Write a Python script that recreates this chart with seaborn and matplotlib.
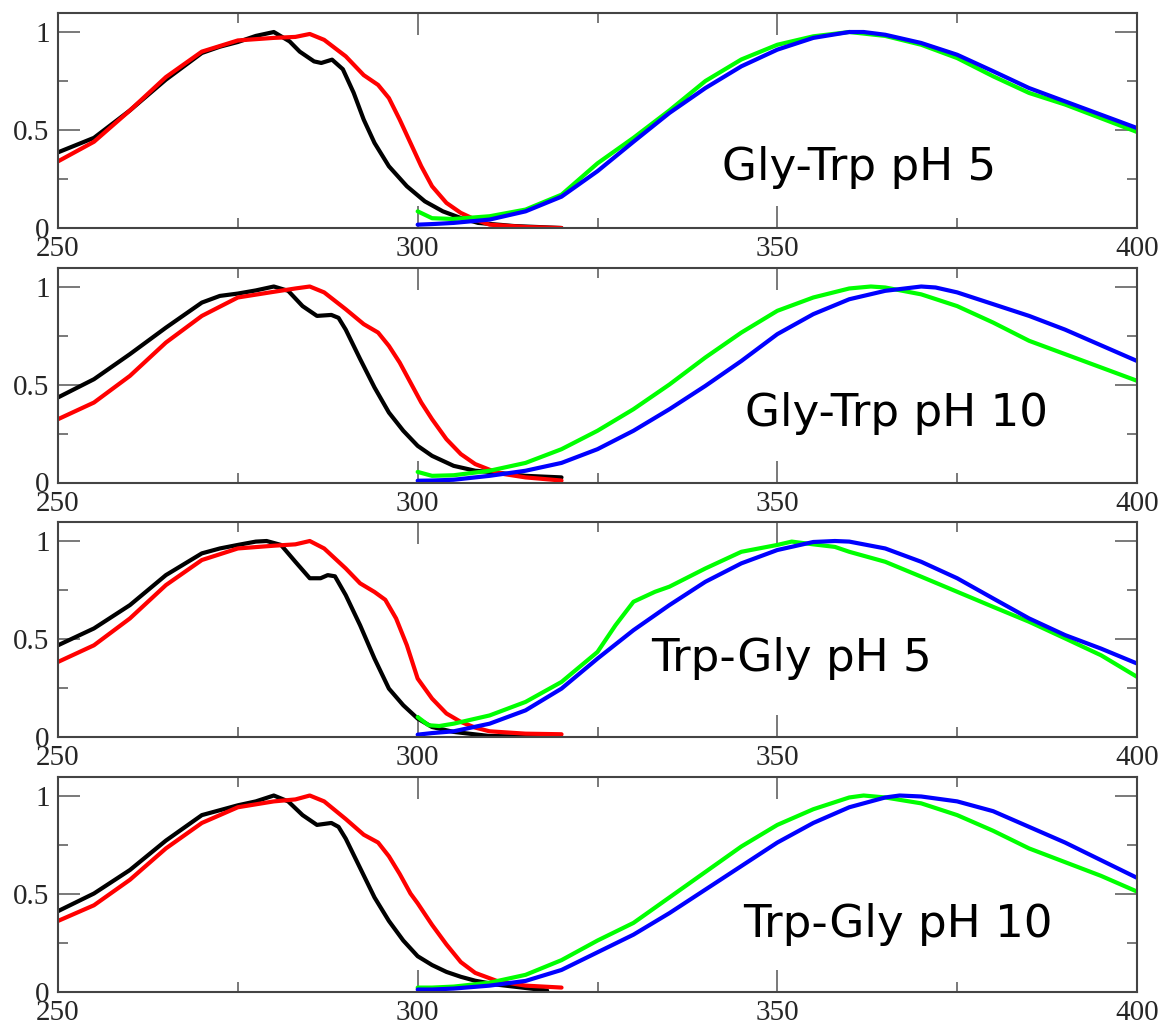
import matplotlib
matplotlib.use("Agg")
import matplotlib.pyplot as plt
import seaborn as sns
import pandas as pd

# ---------------- data ----------------
panel_labels = ["Gly-Trp pH 5", "Gly-Trp pH 10", "Trp-Gly pH 5", "Trp-Gly pH 10"]

# Panel 1 : Gly-Trp pH 5
p1_black_wl = [250, 255, 260, 265, 270, 272.5, 275, 277.5, 280, 282.2, 283.6, 285.6, 286.6, 288.1, 289.6,
               291.1, 292.5, 294, 296, 298.5, 301, 303.5, 306, 308.4, 313.4, 320]
p1_black = [0.386, 0.46, 0.60, 0.757, 0.893, 0.925, 0.949, 0.98, 1.0, 0.952, 0.90, 0.85, 0.842, 0.859, 0.81,
            0.69, 0.553, 0.434, 0.315, 0.213, 0.136, 0.085, 0.051, 0.026, 0.01, 0.0]
p1_red_wl = [250, 255, 260, 265, 270, 275, 280, 283, 285, 287, 290, 292.5, 294.5, 296, 297.5, 299, 300.5,
             302, 304, 306, 308, 310, 315, 320]
p1_red = [0.34, 0.44, 0.60, 0.77, 0.90, 0.957, 0.97, 0.975, 0.99, 0.96, 0.876, 0.78, 0.73, 0.663, 0.553,
          0.434, 0.315, 0.213, 0.128, 0.077, 0.043, 0.017, 0.005, 0.0]
p1_green_wl = [300, 302, 305, 310, 315, 320, 325, 330, 335, 340, 345, 350, 355, 360, 365, 370, 375, 380,
               385, 390, 395, 400]
p1_green = [0.085, 0.05, 0.046, 0.06, 0.094, 0.17, 0.33, 0.46, 0.60, 0.75, 0.86, 0.935, 0.978, 1.0, 0.98,
            0.935, 0.867, 0.774, 0.689, 0.63, 0.56, 0.49]
p1_blue_wl = [300, 302, 305, 310, 315, 320, 325, 330, 335, 340, 345, 350, 355, 360, 362, 365, 370, 375,
              380, 385, 390, 395, 400]
p1_blue = [0.017, 0.02, 0.026, 0.043, 0.085, 0.16, 0.29, 0.44, 0.587, 0.714, 0.825, 0.91, 0.97, 1.0, 1.0,
           0.986, 0.944, 0.884, 0.80, 0.714, 0.646, 0.578, 0.51]

# Panel 2 : Gly-Trp pH 10
p2_black_wl = [250, 255, 260, 265, 270, 272.5, 275, 277.5, 280, 282, 284, 286, 288, 289, 290, 292, 294,
               296, 298, 300, 302, 305, 308, 310, 315, 320]
p2_black = [0.434, 0.527, 0.655, 0.79, 0.918, 0.952, 0.964, 0.98, 1.0, 0.978, 0.90, 0.85, 0.855, 0.84,
            0.78, 0.63, 0.485, 0.357, 0.264, 0.187, 0.136, 0.085, 0.06, 0.054, 0.034, 0.026]
p2_red_wl = [250, 255, 260, 265, 270, 275, 280, 283, 285, 287, 290, 292.5, 294.5, 296, 297.5, 299, 300.5,
             302, 304, 306, 308, 310, 312, 315, 320]
p2_red = [0.323, 0.408, 0.544, 0.714, 0.85, 0.944, 0.973, 0.99, 1.0, 0.97, 0.884, 0.808, 0.765, 0.697,
          0.612, 0.51, 0.408, 0.323, 0.221, 0.145, 0.094, 0.065, 0.043, 0.026, 0.01]
p2_green_wl = [300, 302, 305, 310, 315, 320, 325, 330, 335, 340, 345, 350, 355, 360, 363, 365, 370, 375,
               380, 385, 390, 395, 400]
p2_green = [0.054, 0.034, 0.037, 0.06, 0.10, 0.17, 0.264, 0.374, 0.50, 0.638, 0.765, 0.876, 0.944, 0.99,
            1.0, 0.995, 0.96, 0.90, 0.816, 0.723, 0.655, 0.587, 0.519]
p2_blue_wl = [300, 302, 305, 310, 315, 320, 325, 330, 335, 340, 345, 350, 355, 360, 365, 370, 372, 375,
              380, 385, 390, 395, 400]
p2_blue = [0.009, 0.01, 0.014, 0.034, 0.06, 0.10, 0.17, 0.264, 0.374, 0.493, 0.62, 0.757, 0.859, 0.935,
           0.978, 1.0, 0.995, 0.97, 0.91, 0.85, 0.78, 0.70, 0.62]

# Panel 3 : Trp-Gly pH 5
p3_black_wl = [250, 255, 260, 265, 270, 272.5, 275, 277.5, 279, 281, 283, 285, 286.5, 287.5, 288.5, 290,
               292, 294, 296, 298, 300, 302, 305, 310, 320]
p3_black = [0.468, 0.554, 0.673, 0.826, 0.937, 0.962, 0.98, 0.997, 1.0, 0.98, 0.894, 0.81, 0.81, 0.826,
            0.82, 0.724, 0.57, 0.40, 0.247, 0.162, 0.094, 0.051, 0.026, 0.005, 0.0]
p3_red_wl = [250, 255, 260, 265, 270, 275, 280, 283, 285, 287, 290, 292, 294, 295.5, 297, 298.5, 300, 302,
             304, 306, 308, 310, 315, 320]
p3_red = [0.383, 0.468, 0.605, 0.775, 0.903, 0.962, 0.976, 0.983, 1.0, 0.962, 0.86, 0.784, 0.74, 0.70,
          0.605, 0.468, 0.298, 0.196, 0.12, 0.077, 0.048, 0.029, 0.017, 0.014]
p3_green_wl = [300, 301.5, 303, 305, 310, 315, 320, 325, 327.5, 330, 333, 335, 340, 345, 350, 352, 355,
               358, 360, 365, 370, 375, 380, 385, 390, 395, 400]
p3_green = [0.102, 0.06, 0.056, 0.068, 0.11, 0.179, 0.281, 0.434, 0.57, 0.69, 0.741, 0.767, 0.86, 0.945,
            0.98, 0.997, 0.983, 0.97, 0.945, 0.894, 0.818, 0.741, 0.664, 0.588, 0.503, 0.417, 0.307]
p3_blue_wl = [300, 302, 305, 310, 315, 320, 325, 330, 335, 340, 345, 350, 355, 358, 360, 365, 370, 375,
              380, 385, 390, 395, 400]
p3_blue = [0.012, 0.02, 0.029, 0.068, 0.136, 0.247, 0.40, 0.545, 0.673, 0.792, 0.886, 0.954, 0.995, 1.0,
           0.997, 0.962, 0.894, 0.81, 0.707, 0.605, 0.52, 0.451, 0.375]

# Panel 4 : Trp-Gly pH 10
p4_black_wl = [250, 255, 260, 265, 270, 275, 277.5, 280, 282, 284, 286, 288, 289, 290, 292, 294, 296, 298,
               300, 302, 304, 306, 308, 311, 315, 318]
p4_black = [0.41, 0.50, 0.62, 0.77, 0.90, 0.95, 0.97, 1.0, 0.97, 0.90, 0.85, 0.86, 0.84, 0.78, 0.63, 0.48,
            0.36, 0.26, 0.18, 0.135, 0.10, 0.075, 0.055, 0.035, 0.018, 0.005]
p4_red_wl = [250, 255, 260, 265, 270, 275, 280, 283, 285, 287, 290, 292.5, 294.5, 296, 297.5, 299, 300,
             302, 304, 306, 308, 311, 315, 320]
p4_red = [0.36, 0.44, 0.57, 0.73, 0.86, 0.94, 0.97, 0.98, 1.0, 0.97, 0.88, 0.80, 0.76, 0.69, 0.60, 0.50,
          0.45, 0.34, 0.24, 0.15, 0.095, 0.054, 0.03, 0.02]
p4_green_wl = [300, 302, 305, 310, 315, 320, 325, 330, 335, 340, 345, 350, 355, 360, 362, 365, 370, 375,
               380, 385, 390, 395, 400]
p4_green = [0.02, 0.02, 0.025, 0.045, 0.085, 0.16, 0.26, 0.35, 0.48, 0.61, 0.74, 0.85, 0.93, 0.99, 1.0,
            0.99, 0.96, 0.90, 0.82, 0.73, 0.66, 0.59, 0.51]
p4_blue_wl = [300, 302, 305, 310, 315, 320, 325, 330, 335, 340, 345, 350, 355, 360, 365, 367, 370, 375,
              380, 385, 390, 395, 400]
p4_blue = [0.01, 0.01, 0.015, 0.03, 0.054, 0.11, 0.20, 0.29, 0.40, 0.52, 0.64, 0.76, 0.86, 0.94, 0.99,
           1.0, 0.995, 0.97, 0.92, 0.84, 0.76, 0.67, 0.58]

panels = [
    [(p1_black_wl, p1_black), (p1_red_wl, p1_red), (p1_green_wl, p1_green), (p1_blue_wl, p1_blue)],
    [(p2_black_wl, p2_black), (p2_red_wl, p2_red), (p2_green_wl, p2_green), (p2_blue_wl, p2_blue)],
    [(p3_black_wl, p3_black), (p3_red_wl, p3_red), (p3_green_wl, p3_green), (p3_blue_wl, p3_blue)],
    [(p4_black_wl, p4_black), (p4_red_wl, p4_red), (p4_green_wl, p4_green), (p4_blue_wl, p4_blue)],
]
series_colors = ["#000000", "#ff0000", "#00ff00", "#0000ff"]
# label anchor (wavelength, baseline value)
label_pos = [(342.3, 0.247), (345.5, 0.289), (332.4, 0.336), (345.3, 0.28)]

# ---------------- figure ----------------
sns.set_style("ticks")
plt.rcParams["font.family"] = ["Liberation Serif", "DejaVu Serif"]

W, H = 1173, 1030
fig = plt.figure(figsize=(W / 100, H / 100), dpi=100)

left_px, right_px = 58, 1137
top0, step, height = 13, 254.5, 215

for i, series in enumerate(panels):
    top = top0 + i * step
    ax = fig.add_axes([left_px / W, 1 - (top + height) / H, (right_px - left_px) / W, height / H])
    for (wl, vals), col in zip(series, series_colors):
        df = pd.DataFrame({"wl": wl, "v": vals})
        sns.lineplot(data=df, x="wl", y="v", color=col, lw=3, ax=ax, estimator=None, sort=False)
    ax.set_xlim(250, 400)
    ax.set_ylim(0, 1.097)
    ax.set_xticks([250, 300, 350, 400])
    ax.set_xticks([275, 325, 375], minor=True)
    ax.set_yticks([0, 0.5, 1])
    ax.set_yticklabels(["0", "0.5", "1"])
    ax.set_yticks([0.25, 0.75], minor=True)
    ax.set_xlabel("")
    ax.set_ylabel("")
    ax.tick_params(which="both", direction="in", top=True, right=True, color="#555555", width=1.1)
    ax.tick_params(which="major", length=15.8)
    ax.tick_params(which="minor", length=7.2)
    ax.tick_params(axis="x", which="major", labelsize=21, pad=6)
    ax.tick_params(axis="y", which="major", labelsize=21, pad=6)
    for sp in ax.spines.values():
        sp.set_visible(True)
        sp.set_color("#444444")
        sp.set_linewidth(1.5)
    lx, ly = label_pos[i]
    ax.text(lx, ly, panel_labels[i], fontsize=32.5, family=["DejaVu Sans"],
            ha="left", va="baseline", color="black")

fig.savefig("out.png", dpi=100)
